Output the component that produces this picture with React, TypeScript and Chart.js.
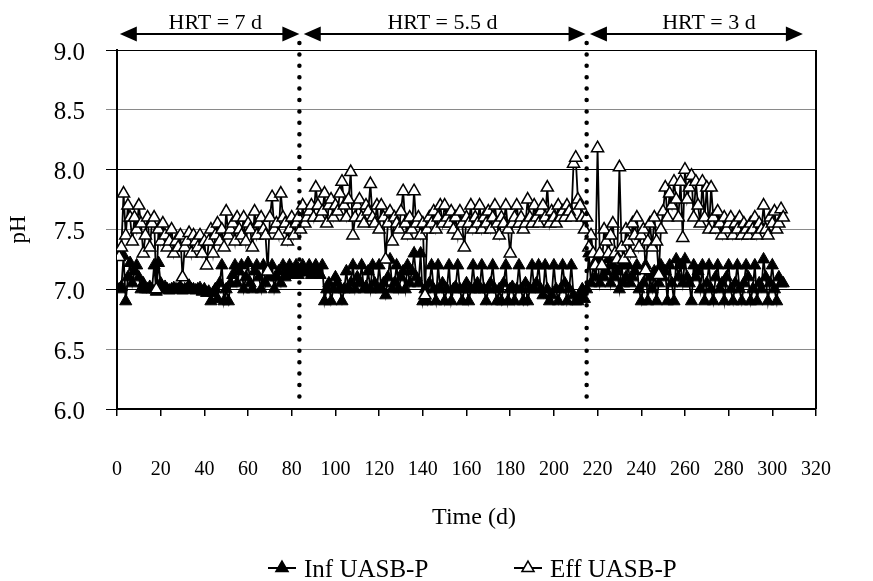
import React, { useEffect, useRef } from 'react';
import { Chart, registerables } from 'chart.js';

Chart.register(...registerables);

// Sampling days (d)
const days = [
  1, 2, 3, 4, 5, 6, 7, 8, 9, 10,
  11, 12, 13, 14, 15, 16, 17, 18, 19, 20,
  21, 22, 23, 24, 25, 26, 27, 28, 29, 30,
  31, 32, 33, 34, 35, 36, 37, 38, 39, 40,
  41, 42, 43, 44, 45, 46, 47, 48, 49, 50,
  51, 52, 53, 54, 55, 56, 57, 58, 59, 60,
  61, 62, 63, 64, 65, 66, 67, 68, 69, 70,
  71, 72, 73, 74, 75, 76, 77, 78, 79, 80,
  81, 82, 83, 84, 85, 86, 87, 88, 89, 90,
  91, 92, 93, 94, 95, 96, 97, 98, 99, 100,
  101, 102, 103, 104, 105, 106, 107, 108, 109, 110,
  111, 112, 113, 114, 115, 116, 117, 118, 119, 120,
  121, 122, 123, 124, 125, 126, 127, 128, 129, 130,
  131, 132, 133, 134, 135, 136, 137, 138, 139, 140,
  141, 142, 143, 144, 145, 146, 147, 148, 149, 150,
  151, 152, 153, 154, 155, 156, 157, 158, 159, 160,
  161, 162, 163, 164, 165, 166, 167, 168, 169, 170,
  171, 172, 173, 174, 175, 176, 177, 178, 179, 180,
  181, 182, 183, 184, 185, 186, 187, 188, 189, 190,
  191, 192, 193, 194, 195, 196, 197, 198, 199, 200,
  201, 202, 203, 204, 205, 206, 207, 208, 209, 210,
  211, 212, 213, 214, 215, 216, 217, 218, 219, 220,
  221, 222, 223, 224, 225, 226, 227, 228, 229, 230,
  231, 232, 233, 234, 235, 236, 237, 238, 239, 240,
  241, 242, 243, 244, 245, 246, 247, 248, 249, 250,
  251, 252, 253, 254, 255, 256, 257, 258, 259, 260,
  261, 262, 263, 264, 265, 266, 267, 268, 269, 270,
  271, 272, 273, 274, 275, 276, 277, 278, 279, 280,
  281, 282, 283, 284, 285, 286, 287, 288, 289, 290,
  291, 292, 293, 294, 295, 296, 297, 298, 299, 300,
  301, 302, 303, 304, 305,
];

// Influent pH
const infPH = [
  7.0, 7.02, 7.28, 6.9, 7.1, 7.22, 7.05, 7.15, 7.2, 7.1,
  7.0, 7.05, 7.0, 7.0, 7.02, 7.0, 7.2, 6.98, 7.22, 7.05,
  7.0, 7.02, 7.0, 6.99, 7.0, 7.01, 7.0, 7.0, 7.02, 6.99,
  7.0, 7.0, 7.03, 7.0, 7.0, 6.99, 7.0, 7.01, 6.98, 7.0,
  6.97, 6.98, 6.9, 6.97, 7.0, 6.92, 7.05, 7.2, 6.9, 7.0,
  6.9, 7.05, 7.12, 7.2, 7.05, 7.15, 7.2, 7.0, 7.1, 7.22,
  7.05, 7.0, 7.15, 7.2, 7.1, 7.0, 7.2, 7.05, 7.15, 7.1,
  7.2, 7.0, 7.1, 7.15, 7.05, 7.2, 7.1, 7.15, 7.2, 7.12,
  7.15, 7.2, 7.12, 7.15, 7.2, 7.14, 7.15, 7.2, 7.12, 7.15,
  7.2, 7.15, 7.12, 7.2, 6.9, 7.0, 7.05, 6.9, 7.0, 7.1,
  7.05, 7.0, 6.9, 7.0, 7.15, 7.0, 7.05, 7.2, 7.0, 7.1,
  7.05, 7.2, 7.0, 7.02, 7.15, 7.0, 7.2, 7.05, 7.0, 7.2,
  7.0, 7.05, 6.95, 7.1, 7.25, 7.0, 7.05, 7.2, 7.0, 7.1,
  7.15, 7.0, 7.2, 7.05, 7.15, 7.3, 7.1, 7.05, 7.3, 6.9,
  7.0, 6.9, 7.05, 7.2, 7.0, 6.9, 7.2, 7.0, 7.05, 6.9,
  7.0, 7.2, 6.9, 7.0, 7.02, 7.2, 7.0, 6.9, 7.0, 7.05,
  6.9, 7.0, 7.2, 7.0, 7.05, 7.0, 7.2, 7.0, 6.9, 7.0,
  7.05, 7.2, 7.0, 6.9, 7.0, 6.9, 7.05, 7.2, 6.9, 7.0,
  7.02, 6.9, 7.0, 7.2, 7.0, 6.9, 7.05, 6.9, 7.0, 7.2,
  7.0, 7.05, 7.2, 7.0, 6.95, 7.2, 7.0, 6.9, 6.95, 7.2,
  7.0, 6.9, 7.0, 7.2, 7.05, 6.9, 7.0, 7.2, 6.95, 6.9,
  6.9, 6.95, 7.0, 6.92, 7.0, 7.3, 7.05, 7.2, 7.1, 7.25,
  7.05, 7.2, 7.1, 7.15, 7.25, 7.05, 7.2, 7.1, 7.15, 7.0,
  7.2, 7.05, 7.1, 7.2, 7.05, 7.1, 7.15, 7.2, 7.0, 6.9,
  7.05, 7.2, 6.9, 7.1, 7.0, 7.15, 6.9, 7.05, 7.2, 7.1,
  7.15, 6.9, 7.2, 7.05, 6.9, 7.25, 7.1, 7.2, 7.05, 7.25,
  7.1, 7.05, 6.9, 7.2, 7.1, 7.15, 7.0, 7.2, 6.9, 7.05,
  7.2, 7.0, 6.9, 7.1, 7.2, 7.0, 7.05, 6.9, 7.1, 7.2,
  7.0, 6.9, 7.05, 7.2, 7.0, 6.9, 7.05, 7.2, 7.1, 6.9,
  7.0, 7.2, 6.9, 7.05, 7.0, 7.25, 7.1, 6.9, 7.05, 7.2,
  7.0, 6.9, 7.1, 7.05, 7.05,
];

// Effluent pH
const effPH = [
  7.27, 7.35, 7.8, 7.45, 7.7, 7.6, 7.4, 7.6, 7.5, 7.7,
  7.55, 7.3, 7.45, 7.6, 7.35, 7.55, 7.6, 7.0, 7.5, 7.4,
  7.55, 7.45, 7.35, 7.4, 7.5, 7.3, 7.4, 7.35, 7.45, 7.1,
  7.35, 7.4, 7.47, 7.3, 7.45, 7.4, 7.35, 7.45, 7.3, 7.4,
  7.2, 7.4, 7.5, 7.3, 7.45, 7.55, 7.4, 7.5, 7.35, 7.65,
  7.45, 7.5, 7.55, 7.4, 7.6, 7.5, 7.45, 7.6, 7.4, 7.55,
  7.5, 7.35, 7.65, 7.45, 7.55, 7.6, 7.5, 7.45, 7.15, 7.6,
  7.77, 7.5, 7.55, 7.45, 7.8, 7.6, 7.55, 7.4, 7.5, 7.6,
  7.45, 7.55, 7.6, 7.5, 7.7, 7.55, 7.6, 7.65, 7.7, 7.6,
  7.85, 7.7, 7.6, 7.65, 7.8, 7.55, 7.7, 7.75, 7.6, 7.7,
  7.65, 7.8, 7.9, 7.7, 7.6, 7.75, 7.98, 7.45, 7.6, 7.7,
  7.75, 7.6, 7.55, 7.7, 7.65, 7.88, 7.6, 7.55, 7.7, 7.5,
  7.7, 7.6, 7.25, 7.55, 7.65, 7.4, 7.6, 7.55, 7.5, 7.65,
  7.82, 7.55, 7.45, 7.6, 7.5, 7.82, 7.55, 7.6, 7.45, 7.55,
  6.95, 7.5, 7.6, 7.55, 7.65, 7.5, 7.6, 7.7, 7.55, 7.7,
  7.6, 7.55, 7.65, 7.5, 7.6, 7.45, 7.65, 7.55, 7.35, 7.6,
  7.55, 7.7, 7.5, 7.6, 7.55, 7.7, 7.5, 7.6, 7.55, 7.65,
  7.5, 7.6, 7.7, 7.55, 7.45, 7.6, 7.55, 7.7, 7.5, 7.3,
  7.55, 7.6, 7.7, 7.55, 7.6, 7.5, 7.55, 7.75, 7.6, 7.55,
  7.7, 7.6, 7.55, 7.65, 7.7, 7.6, 7.85, 7.55, 7.65, 7.6,
  7.55, 7.7, 7.6, 7.65, 7.6, 7.7, 7.65, 7.6, 8.05, 8.1,
  7.75, 7.7, 7.6, 7.5, 7.6, 7.35, 7.45, 7.3, 7.2, 8.18,
  7.3, 7.2, 7.5, 7.4, 7.3, 7.45, 7.55, 7.3, 7.25, 8.02,
  7.35, 7.25, 7.5, 7.4, 7.3, 7.55, 7.45, 7.6, 7.35, 7.45,
  7.5, 7.16, 7.4, 7.55, 7.35, 7.6, 7.4, 7.12, 7.5, 7.65,
  7.85, 7.6, 7.8, 7.7, 7.9, 7.75, 7.6, 7.9, 7.43, 8.0,
  7.75, 7.85, 7.95, 7.6, 7.9, 7.7, 7.55, 7.9, 7.6, 7.85,
  7.5, 7.85, 7.6, 7.5, 7.65, 7.55, 7.45, 7.6, 7.5, 7.55,
  7.6, 7.45, 7.55, 7.5, 7.6, 7.45, 7.55, 7.5, 7.45, 7.55,
  7.5, 7.6, 7.45, 7.55, 7.5, 7.7, 7.5, 7.45, 7.6, 7.55,
  7.65, 7.5, 7.55, 7.67, 7.6,
];

// Hydraulic retention time periods (days)
const hrtLabels = ['HRT = 7 d', 'HRT = 5.5 d', 'HRT = 3 d'];
const hrtStart = [1.3, 85.5, 216.5];
const hrtEnd = [83.5, 214.5, 314];
const hrtLabelDay = [45, 149, 271];
const hrtChangeDays = [83.5, 215];

const seriesNames = ['Inf UASB-P', 'Eff UASB-P'];

const SERIF = '"Liberation Serif", "Times New Roman", serif';

function triangle(ctx: CanvasRenderingContext2D, x: number, y: number, r: number) {
  ctx.beginPath();
  ctx.moveTo(x, y - r);
  ctx.lineTo(x + r * 0.866, y + r * 0.5);
  ctx.lineTo(x - r * 0.866, y + r * 0.5);
  ctx.closePath();
}

function arrowBetween(ctx: CanvasRenderingContext2D, x1: number, x2: number, y: number) {
  const L = 17;
  const H = 7.5;
  ctx.beginPath();
  ctx.moveTo(x1 + L - 2, y);
  ctx.lineTo(x2 - L + 2, y);
  ctx.stroke();
  ctx.beginPath();
  ctx.moveTo(x1, y);
  ctx.lineTo(x1 + L, y - H);
  ctx.lineTo(x1 + L, y + H);
  ctx.closePath();
  ctx.fill();
  ctx.beginPath();
  ctx.moveTo(x2, y);
  ctx.lineTo(x2 - L, y - H);
  ctx.lineTo(x2 - L, y + H);
  ctx.closePath();
  ctx.fill();
}

const decorations = {
  id: 'decorations',
  afterDraw(chart: any) {
    const { ctx, chartArea, scales } = chart;
    const xs = scales.x;
    ctx.save();

    // right frame of the plot area
    ctx.strokeStyle = '#000';
    ctx.lineWidth = 2;
    ctx.beginPath();
    ctx.moveTo(chartArea.right, chartArea.top);
    ctx.lineTo(chartArea.right, chartArea.bottom);
    ctx.stroke();

    // dotted separators where the HRT changes
    ctx.setLineDash([0, 11.4]);
    ctx.lineCap = 'round';
    ctx.lineWidth = 4.5;
    hrtChangeDays.forEach((d) => {
      const x = xs.getPixelForValue(d);
      ctx.beginPath();
      ctx.moveTo(x, chartArea.top - 7);
      ctx.lineTo(x, chartArea.bottom - 4);
      ctx.stroke();
    });
    ctx.setLineDash([]);
    ctx.lineCap = 'butt';

    // double-headed arrows and HRT labels
    ctx.fillStyle = '#000';
    ctx.lineWidth = 2;
    const ay = chartArea.top - 16;
    hrtStart.forEach((s, i) => {
      arrowBetween(ctx, xs.getPixelForValue(s), xs.getPixelForValue(hrtEnd[i]), ay);
    });
    ctx.font = `22px ${SERIF}`;
    ctx.textAlign = 'center';
    ctx.textBaseline = 'alphabetic';
    hrtLabels.forEach((t, i) => {
      ctx.fillText(t, xs.getPixelForValue(hrtLabelDay[i]), chartArea.top - 21);
    });

    // x-axis title
    ctx.font = `24px ${SERIF}`;
    ctx.fillText('Time (d)', 474, 524);

    // legend
    const ly = 568;
    const items = [
      { x: 282, fill: '#000', text: seriesNames[0], tx: 304 },
      { x: 528, fill: '#fff', text: seriesNames[1], tx: 550 },
    ];
    ctx.font = `25px ${SERIF}`;
    ctx.textAlign = 'left';
    items.forEach((it) => {
      ctx.strokeStyle = '#000';
      ctx.lineWidth = 2;
      ctx.beginPath();
      ctx.moveTo(it.x - 14, ly);
      ctx.lineTo(it.x + 14, ly);
      ctx.stroke();
      triangle(ctx, it.x, ly, 7);
      ctx.fillStyle = it.fill;
      ctx.fill();
      ctx.lineWidth = 1.5;
      ctx.stroke();
      ctx.fillStyle = '#000';
      ctx.fillText(it.text, it.tx, 577);
    });

    ctx.restore();
  },
};

export default function App() {
  const canvasRef = useRef<HTMLCanvasElement | null>(null);

  useEffect(() => {
    if (!canvasRef.current) return;
    const toPoints = (vals: number[]) => days.map((d, i) => ({ x: d, y: vals[i] }));

    const chart = new Chart(canvasRef.current, {
      type: 'line',
      data: {
        datasets: [
          {
            label: seriesNames[0],
            data: toPoints(infPH),
            borderColor: '#000',
            borderWidth: 1.8,
            pointStyle: 'triangle',
            pointRadius: 7,
            pointBackgroundColor: '#000',
            pointBorderColor: '#000',
            pointBorderWidth: 1,
            tension: 0,
            order: 1,
          },
          {
            label: seriesNames[1],
            data: toPoints(effPH),
            borderColor: '#000',
            borderWidth: 1.8,
            pointStyle: 'triangle',
            pointRadius: 7,
            pointBackgroundColor: '#fff',
            pointBorderColor: '#000',
            pointBorderWidth: 1.5,
            tension: 0,
            order: 0,
          },
        ],
      },
      options: {
        responsive: false,
        animation: false,
        devicePixelRatio: 1,
        layout: { padding: { left: 0, right: 20, top: 50, bottom: 0 } },
        plugins: {
          legend: { display: false },
          tooltip: { enabled: false },
        },
        scales: {
          x: {
            type: 'linear',
            position: 'bottom',
            min: 0,
            max: 320,
            afterFit: (scale: any) => {
              scale.height = 172;
            },
            ticks: {
              stepSize: 20,
              autoSkip: false,
              maxRotation: 0,
              padding: 42,
              color: '#000',
              font: { family: SERIF, size: 20 },
            },
            grid: {
              drawOnChartArea: false,
              drawTicks: true,
              tickLength: 7,
              color: '#000',
              lineWidth: 1.5,
            },
            border: { display: true, color: '#000', width: 1.5 },
          },
          y: {
            min: 6,
            max: 9,
            afterFit: (scale: any) => {
              scale.width = 117;
            },
            ticks: {
              stepSize: 0.5,
              padding: 21,
              labelOffset: 3,
              color: '#000',
              font: { family: SERIF, size: 25 },
              callback: (v: any) => Number(v).toFixed(1),
            },
            grid: {
              color: (c: any) =>
                c.tick && Number.isInteger(c.tick.value) ? '#000' : '#8a8a8a',
              lineWidth: 1,
              tickLength: 11,
            },
            border: { display: true, color: '#000', width: 2 },
            title: {
              display: true,
              text: 'pH',
              color: '#000',
              font: { family: SERIF, size: 23 },
              padding: { top: 5, bottom: 0 },
            },
          },
        },
      },
      plugins: [decorations],
    });

    return () => chart.destroy();
  }, []);

  return (
    <div
      style={{
        position: 'absolute',
        left: 0,
        top: 0,
        width: 873,
        height: 581,
        background: '#fff',
      }}
    >
      <canvas ref={canvasRef} width={873} height={581} style={{ display: 'block' }} />
    </div>
  );
}
